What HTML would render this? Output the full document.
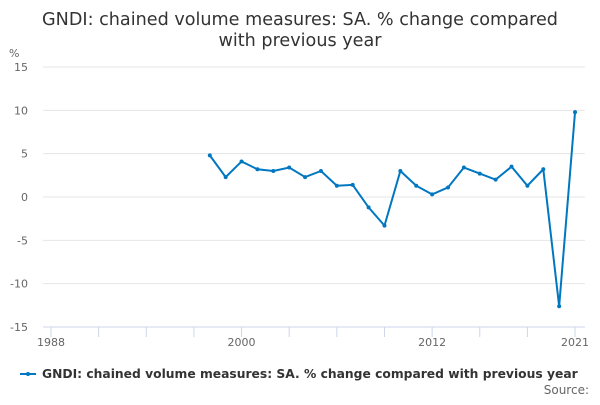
<!DOCTYPE html>
<html><head><meta charset="utf-8"><style>
body{margin:0;background:#fff;font-family:"Liberation Sans","DejaVu Sans",sans-serif;}
svg text{font-family:"DejaVu Sans","Liberation Sans",sans-serif;}
</style></head><body>
<svg width="600" height="400" id="c">
<text x="300" y="25" text-anchor="middle" font-size="17.6" fill="#333">GNDI: chained volume measures: SA. % change compared</text>
<text x="300" y="46" text-anchor="middle" font-size="17.6" fill="#333">with previous year</text>
<text x="9" y="57" font-size="11" fill="#666">%</text>
<g id="grid"></g><g id="xa"></g><g id="ser"></g>
<g>
<line x1="20" y1="374" x2="36" y2="374" stroke="#0077c0" stroke-width="2"/>
<circle cx="28" cy="374" r="2" fill="#0077c0"/>
<text x="42" y="378" font-size="12.3" font-weight="bold" fill="#333">GNDI: chained volume measures: SA. % change compared with previous year</text>
</g>
<text x="589" y="394" text-anchor="end" font-size="12" fill="#666">Source:</text>
</svg>
<script>
const years=[1998,1999,2000,2001,2002,2003,2004,2005,2006,2007,2008,2009,2010,2011,2012,2013,2014,2015,2016,2017,2018,2019,2020,2021];
const values=[4.8,2.3,4.1,3.2,3.0,3.4,2.3,3.0,1.3,1.4,-1.2,-3.3,3.0,1.3,0.3,1.1,3.4,2.7,2.0,3.5,1.3,3.2,-12.6,9.8];
const yTicks=[15,10,5,0,-5,-10,-15];
const xLabels=[1988,2000,2012,2021];
const NS="http://www.w3.org/2000/svg";
const X=y=>51+(y-1988)*15.88;
const Y=v=>197-v*(130/15);
function mk(t,a,p){const e=document.createElementNS(NS,t);for(const k in a)e.setAttribute(k,a[k]);p.appendChild(e);return e;}
const grid=document.getElementById('grid'),xa=document.getElementById('xa'),ser=document.getElementById('ser');
yTicks.forEach(v=>{
 const l=mk('line',{x1:43,x2:585,y1:Y(v),y2:Y(v),stroke:v===-15?'#ccd6eb':'#e6e6e6','stroke-width':1},grid);
 
 
 const t=mk('text',{x:28,y:Y(v)+4,'text-anchor':'end','font-size':11,fill:'#666'},grid);
 t.textContent=v;
 
 
});
for(let y=1988;y<=2021;y+=3){
 const yy=y>2018?2021:y;
 const l=mk('line',{x1:X(yy),x2:X(yy),y1:327,y2:337,stroke:'#ccd6eb'},xa);
 
 
}
xLabels.forEach(y=>{
 const t=mk('text',{x:X(y),y:346,'text-anchor':'middle','font-size':11,fill:'#666'},xa);
 t.textContent=y;
 
 
});
const pts=years.map((y,i)=>X(y)+','+Y(values[i])).join(' ');
const pl=mk('polyline',{points:pts,fill:'none',stroke:'#0077c0','stroke-width':2},ser);


years.forEach((y,i)=>{
 const c=mk('circle',{cx:X(y),cy:Y(values[i]),r:2,fill:'#0077c0'},ser);
 
 
});
</script>
</body></html>
